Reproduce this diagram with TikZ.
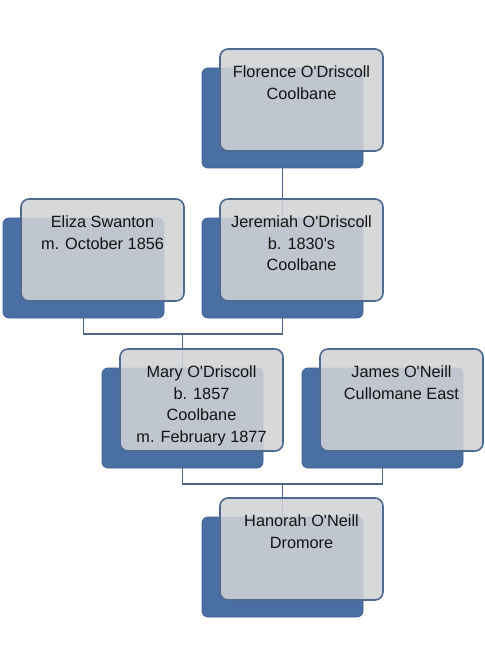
\documentclass[tikz,border=0pt]{standalone}
\usepackage{fontspec}
\setmainfont{Liberation Sans}
\definecolor{backblue}{HTML}{4A6FA3}
\definecolor{backedge}{HTML}{3F5F8E}
\definecolor{frontgray}{HTML}{D1D3D6}
\definecolor{frontedge}{HTML}{4E6A91}
\definecolor{linkcol}{HTML}{4C6586}
\definecolor{txt}{HTML}{141414}
\newcommand\apos{\textquotesingle}
\begin{document}
\begin{tikzpicture}[x=1pt,y=-1pt,
  backbox/.style={draw=backedge, line width=0.8pt, fill=backblue, rounded corners=6pt,
    minimum width=161pt, minimum height=100pt, anchor=north west, inner sep=0pt, outer sep=0pt},
  frontbox/.style={draw=frontedge, line width=1.6pt, fill=frontgray, fill opacity=0.88,
    rounded corners=8pt, minimum width=163pt, minimum height=102pt, anchor=north west,
    inner sep=0pt, outer sep=0pt},
  nametext/.style={anchor=north, align=center, inner sep=0pt, text=txt,
    font=\fontsize{16.3}{21.5}\selectfont},
  link/.style={draw=linkcol, line width=1.8pt}]
\fill[white] (0,0) rectangle (484,668);
\useasboundingbox (0,0) rectangle (484,668);
% back boxes
\node[backbox] (florB) at (202,68) {};
\node[backbox] (elizaB) at (3,218) {};
\node[backbox] (jerB) at (202,218) {};
\node[backbox] (maryB) at (102,368) {};
\node[backbox] (jamesB) at (302,368) {};
\node[backbox] (hanB) at (202,517) {};
% connectors
\draw[link] (florB.south) -- (jerB.north);
\draw[link] (elizaB.south) -- ++(0,16) coordinate (j1) -| (jerB.south);
\draw[link] (maryB.north) -- (maryB.north |- j1);
\draw[link] (maryB.south) -- ++(0,16) coordinate (j2) -| (jamesB.south);
\draw[link] (hanB.north) -- (hanB.north |- j2);
% front boxes
\node[frontbox] (florF) at (220,49) {};
\node[frontbox] (elizaF) at (21,199) {};
\node[frontbox] (jerF) at (220,199) {};
\node[frontbox] (maryF) at (120,349) {};
\node[frontbox] (jamesF) at (320,349) {};
\node[frontbox] (hanF) at (220,498) {};
% texts
\node[nametext] (florT) at ([yshift=-16.5pt]florF.north) {Florence O\apos Driscoll\\Coolbane};
\node[nametext] (elizaT) at ([yshift=-16.5pt]elizaF.north) {Eliza Swanton\\m. October 1856};
\node[nametext] (jerT) at ([yshift=-16.5pt]jerF.north) {Jeremiah O\apos Driscoll\\b. 1830\apos s\\Coolbane};
\node[nametext] (maryT) at ([yshift=-16.5pt]maryF.north) {Mary O\apos Driscoll\\b. 1857\\Coolbane\\m. February 1877};
\node[nametext] (jamesT) at ([yshift=-16.5pt]jamesF.north) {James O\apos Neill\\Cullomane East};
\node[nametext] (hanT) at ([yshift=-16.5pt]hanF.north) {Hanorah O\apos Neill\\Dromore};
\end{tikzpicture}
\end{document}
